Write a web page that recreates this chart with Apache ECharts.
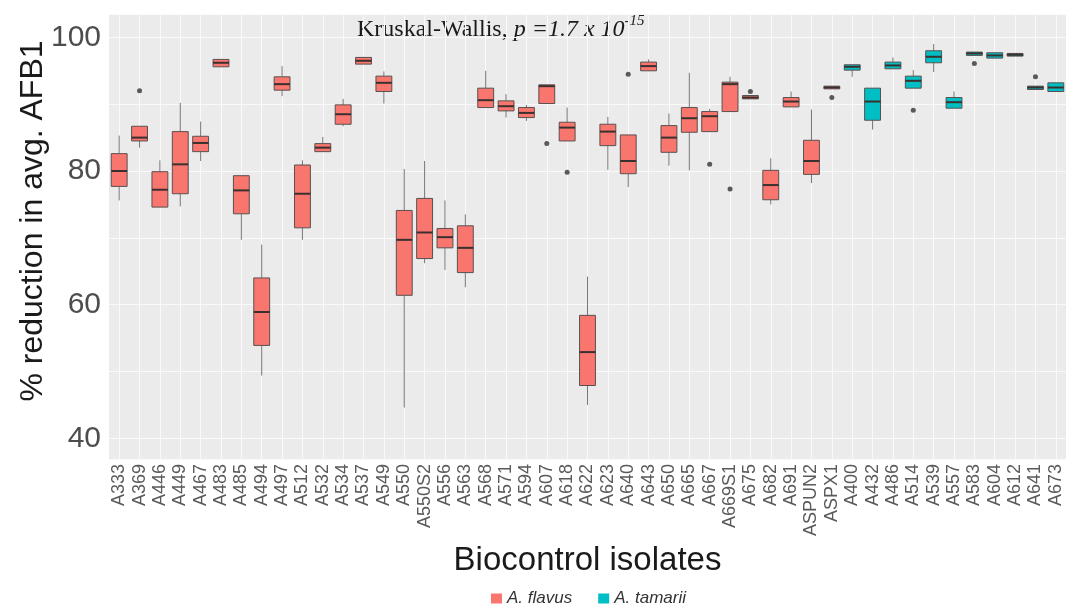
<!DOCTYPE html>
<html>
<head>
<meta charset="utf-8">
<title>% reduction in avg. AFB1 by biocontrol isolate</title>
<script src="https://cdn.jsdelivr.net/npm/echarts@6/dist/echarts.min.js"></script>
<style>
  html, body { margin: 0; padding: 0; background: #fff; }
  #chart { width: 1066px; height: 607px; }
</style>
</head>
<body>
<div id="chart"></div>
<script>
// isolates, grouped by species (order as on the x axis)
const flavusIsolates = ['A333', 'A369', 'A446', 'A449', 'A467', 'A483', 'A485', 'A494', 'A497', 'A512',
  'A532', 'A534', 'A537', 'A549', 'A550', 'A550S2', 'A556', 'A563', 'A568', 'A571', 'A594', 'A607',
  'A618', 'A622', 'A623', 'A640', 'A643', 'A650', 'A665', 'A667', 'A669S1', 'A675', 'A682', 'A691',
  'ASPUN2', 'ASPX1']
const tamariiIsolates = ['A400', 'A432', 'A486', 'A514', 'A539', 'A557', 'A583', 'A604', 'A612', 'A641', 'A673']
const isolates = flavusIsolates.concat(tamariiIsolates)

// box statistics, one entry per isolate
const whiskerLow = [75.6, 83.5, 74.6, 74.7, 81.5, 95.6, 69.7, 49.4, 91.2, 69.7,
  82.9, 86.7, 96.0, 90.1, 44.6, 66.2, 65.2, 62.6, 89.5, 88.0, 87.5, 90.1,
  84.5, 45.0, 80.2, 77.6, 95.0, 80.8, 80.1, 85.9, 88.9, 90.8, 75.0, 89.6,
  78.2, 92.3,
  94.1, 86.2, 95.3, 92.4, 94.8, 89.4, 97.3, 96.9, 97.2, 92.2, 91.9]
const q1 = [77.7, 84.5, 74.6, 76.6, 82.9, 95.6, 73.6, 53.9, 92.1, 71.5,
  82.9, 87.0, 96.0, 91.9, 61.4, 66.9, 68.5, 64.8, 89.5, 89.0, 88.0, 90.1,
  84.5, 47.9, 83.8, 79.6, 95.0, 82.8, 85.8, 85.9, 88.9, 90.8, 75.7, 89.6,
  79.5, 92.3,
  95.1, 87.6, 95.3, 92.4, 96.2, 89.4, 97.3, 96.9, 97.2, 92.2, 91.9]
const median = [80.0, 85.0, 77.2, 81.0, 84.2, 96.2, 77.1, 58.9, 93.0, 76.6,
  83.5, 88.5, 96.5, 93.2, 69.7, 70.8, 70.1, 68.5, 90.6, 89.7, 88.7, 92.7,
  86.5, 52.9, 85.9, 81.5, 95.7, 85.0, 87.9, 88.2, 93.0, 91.0, 77.9, 90.4,
  81.5, 92.5,
  95.6, 90.4, 95.8, 93.5, 97.1, 90.3, 97.6, 97.3, 97.4, 92.5, 92.5]
const q3 = [82.6, 86.7, 79.9, 85.9, 85.2, 96.7, 79.3, 64.0, 94.1, 80.9,
  84.1, 89.9, 97.0, 94.2, 74.1, 75.9, 71.4, 71.8, 92.4, 90.5, 89.5, 92.9,
  87.3, 58.4, 87.0, 85.4, 96.3, 86.8, 89.5, 88.9, 93.3, 91.3, 80.1, 91.0,
  84.6, 92.7,
  95.9, 92.4, 96.3, 94.2, 98.0, 91.0, 97.8, 97.7, 97.6, 92.7, 93.2]
const whiskerHigh = [85.3, 86.7, 81.6, 90.2, 87.4, 96.7, 79.3, 69.0, 95.7, 81.6,
  85.1, 90.8, 97.0, 94.9, 80.3, 81.5, 75.6, 73.5, 95.0, 91.5, 89.9, 92.9,
  89.5, 64.2, 88.1, 85.4, 96.7, 88.6, 94.7, 89.3, 94.1, 91.3, 81.9, 91.9,
  89.2, 92.7,
  95.9, 92.4, 97.0, 95.1, 99.0, 91.9, 97.8, 97.7, 97.6, 92.7, 93.2]

// single outlying replicates
const outlierIsolates = ['A369', 'A607', 'A618', 'A640', 'A667', 'A669S1', 'A675', 'ASPX1', 'A514', 'A583', 'A641']
const outlierValues = [92.0, 84.1, 79.8, 94.5, 81.0, 77.3, 91.9, 91.0, 89.1, 96.1, 94.1]

const yTickLabels = [40, 60, 80, 100]

const chart = echarts.init(document.getElementById('chart'))

function boxRows(names) {
  return names.map(name => {
    const i = isolates.indexOf(name)
    return [name, whiskerLow[i], q1[i], median[i], q3[i], whiskerHigh[i]]
  })
}

function renderBox(params, api) {
  const x = api.value(0)
  const lo = api.coord([x, api.value(1)])
  const b1 = api.coord([x, api.value(2)])
  const md = api.coord([x, api.value(3)])
  const b3 = api.coord([x, api.value(4)])
  const hi = api.coord([x, api.value(5)])
  const half = api.size([1, 0])[0] * 0.39
  const cx = md[0]
  const fill = api.visual('color')
  return {
    type: 'group',
    children: [
      { type: 'line', shape: { x1: cx, y1: hi[1], x2: cx, y2: b3[1] }, style: { stroke: '#777', lineWidth: 1 } },
      { type: 'line', shape: { x1: cx, y1: b1[1], x2: cx, y2: lo[1] }, style: { stroke: '#777', lineWidth: 1 } },
      { type: 'rect', shape: { x: cx - half, y: b3[1], width: half * 2, height: Math.max(b1[1] - b3[1], 1) },
        style: { fill: fill, stroke: '#5a5050', lineWidth: 1 } },
      { type: 'line', shape: { x1: cx - half, y1: md[1], x2: cx + half, y2: md[1] }, style: { stroke: '#3a3030', lineWidth: 2 } }
    ]
  }
}

const option = {
  animation: false,
  textStyle: { fontFamily: 'Liberation Sans, Arial, sans-serif' },
  grid: { left: 109, top: 14, width: 962, height: 445, show: true, backgroundColor: '#ebebeb', borderWidth: 0 },
  legend: {
    data: ['A. flavus', 'A. tamarii'],
    left: 486, top: 585,
    icon: 'rect', itemWidth: 11, itemHeight: 10, itemGap: 26,
    textStyle: { fontSize: 17, fontStyle: 'italic', color: '#333' }
  },
  xAxis: {
    type: 'category',
    data: isolates,
    axisLine: { show: false },
    axisTick: { show: true, interval: 0, alignWithLabel: true, inside: true, length: 445, lineStyle: { color: '#fafafa', width: 1 } },
    axisLabel: { rotate: 90, interval: 0, fontSize: 18, color: '#5a5a5a', margin: 5 },
    splitLine: { show: false },
    name: 'Biocontrol isolates',
    nameLocation: 'middle',
    nameGap: 82,
    nameTextStyle: { fontSize: 33, color: '#1a1a1a' }
  },
  yAxis: {
    type: 'value',
    min: 36.9, max: 103.5, splitNumber: 7,
    axisLine: { show: false },
    axisTick: { show: false },
    axisLabel: {
      fontSize: 30, color: '#4d4d4d', margin: 8, showMinLabel: false, showMaxLabel: false,
      formatter: v => yTickLabels.includes(v) ? String(v) : ''
    },
    splitLine: { lineStyle: { color: '#fafafa', width: 1 } }
  },
  graphic: [
    {
      type: 'text', x: 33, y: 221, rotation: Math.PI / 2,
      style: { text: '% reduction in avg. AFB1', fontSize: 32, fill: '#1a1a1a', textAlign: 'center', textVerticalAlign: 'middle',
        fontFamily: 'Liberation Sans, Arial, sans-serif' }
    },
    {
      type: 'text', x: 357, y: 14,
      style: {
        text: '{n|Kruskal-Wallis, }{i|p =1.7 x 10}{s|-15}',
        rich: {
          n: { fontFamily: 'Liberation Serif, Times New Roman, serif', fontSize: 24, fill: '#1a1a1a', lineHeight: 28, verticalAlign: 'bottom' },
          i: { fontFamily: 'Liberation Serif, Times New Roman, serif', fontSize: 24, fontStyle: 'italic', fill: '#1a1a1a', lineHeight: 28, verticalAlign: 'bottom' },
          s: { fontFamily: 'Liberation Serif, Times New Roman, serif', fontSize: 15, fontStyle: 'italic', fill: '#1a1a1a', lineHeight: 28, verticalAlign: 'top' }
        }
      }
    }
  ],
  series: [
    {
      name: 'A. flavus', type: 'custom', renderItem: renderBox,
      itemStyle: { color: '#f8766d' },
      encode: { x: 0, y: [1, 2, 3, 4, 5] },
      data: boxRows(flavusIsolates)
    },
    {
      name: 'A. tamarii', type: 'custom', renderItem: renderBox,
      itemStyle: { color: '#00bfc4' },
      encode: { x: 0, y: [1, 2, 3, 4, 5] },
      data: boxRows(tamariiIsolates)
    },
    {
      name: 'outliers', type: 'scatter', symbolSize: 5,
      itemStyle: { color: '#333' },
      data: outlierIsolates.map((name, i) => [name, outlierValues[i]]),
      z: 3
    }
  ]
}

chart.setOption(option)
</script>
</body>
</html>
